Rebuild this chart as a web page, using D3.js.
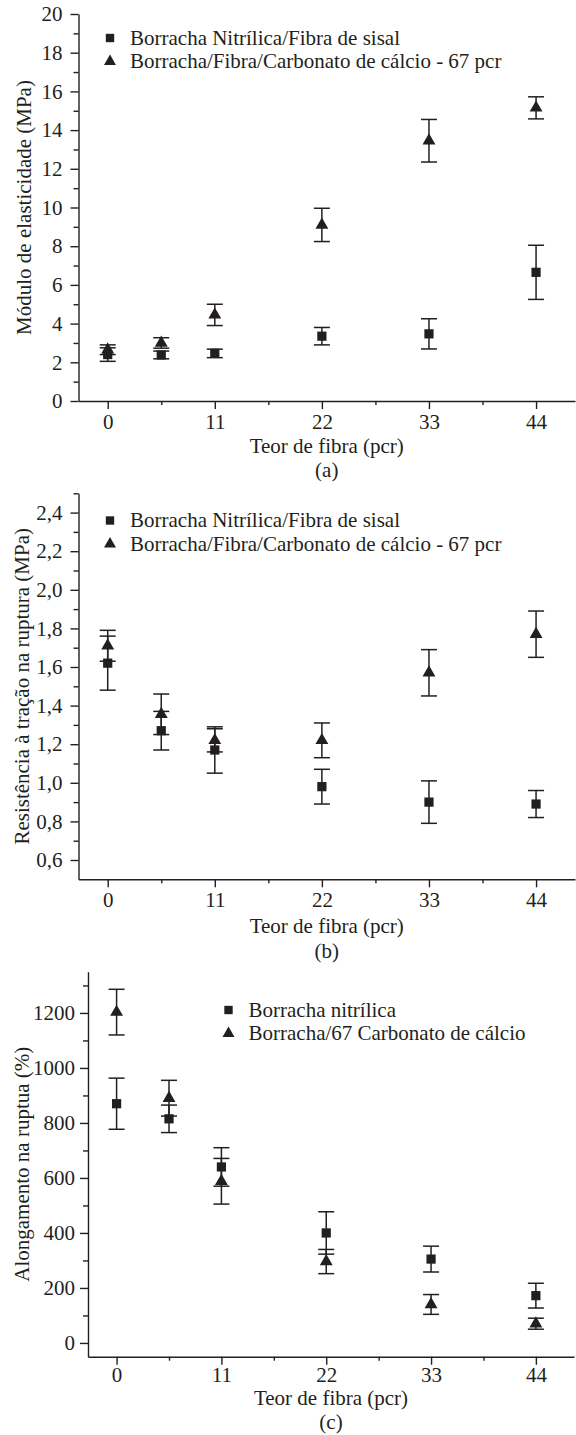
<!DOCTYPE html>
<html>
<head>
<meta charset="utf-8">
<script src="https://cdn.jsdelivr.net/npm/d3@7"></script>
<style>
  body { margin: 0; background: #fff; }
  svg { display: block; }
  text { font-family: "Liberation Serif", "Times New Roman", serif; font-size: 21px; fill: #231f20; }
  .axis path, .axis line { stroke: #231f20; stroke-width: 1.4; }
  .bar { stroke: #231f20; stroke-width: 1.5; fill: none; }
  .mark { fill: #231f20; }
</style>
</head>
<body>
<main></main>
<script>
var width = 576;
var height = 1435;

// fibre content (pcr) for every point
var fibra = [0, 5.5, 11, 22, 33, 44];
var xTicks = [0, 11, 22, 33, 44];
var xMinor = [5.5, 16.5, 27.5, 38.5];

// (a) modulo de elasticidade
var modNitrilica = [2.4, 2.38, 2.46, 3.35, 3.47, 6.65];
var modNitrilicaErr = [0.35, 0.2, 0.22, 0.45, 0.78, 1.4];
var modCarbonato = [2.65, 3.0, 4.45, 9.1, 13.45, 15.15];
var modCarbonatoErr = [0.25, 0.27, 0.55, 0.86, 1.1, 0.57];
var modTicks = [0, 2, 4, 6, 8, 10, 12, 14, 16, 18, 20];
var modMinor = [1, 3, 5, 7, 9, 11, 13, 15, 17, 19];

// (b) resistencia a tracao
var tracNitrilica = [1.62, 1.27, 1.17, 0.98, 0.90, 0.89];
var tracNitrilicaErr = [0.14, 0.10, 0.12, 0.09, 0.11, 0.07];
var tracCarbonato = [1.71, 1.355, 1.22, 1.22, 1.57, 1.77];
var tracCarbonatoErr = [0.08, 0.105, 0.06, 0.09, 0.12, 0.12];
var tracTicks = [0.6, 0.8, 1.0, 1.2, 1.4, 1.6, 1.8, 2.0, 2.2, 2.4];
var tracMinor = [0.7, 0.9, 1.1, 1.3, 1.5, 1.7, 1.9, 2.1, 2.3, 2.5];

// (c) alongamento
var alongNitrilica = [870, 815, 640, 400, 305, 172];
var alongNitrilicaErr = [93, 50, 70, 77, 47, 45];
var alongCarbonato = [1203, 890, 588, 296, 140, 70];
var alongCarbonatoErr = [83, 65, 83, 44, 36, 20];
var alongTicks = [0, 200, 400, 600, 800, 1000, 1200];
var alongMinor = [100, 300, 500, 700, 900, 1100, 1300];

var legendAB = ["Borracha Nitrílica/Fibra de sisal", "Borracha/Fibra/Carbonato de cálcio - 67 pcr"];
var legendC = ["Borracha nitrílica", "Borracha/67 Carbonato de cálcio"];

var comma = d3.formatLocale({decimal: ",", thousands: ".", grouping: [3], currency: ["", ""]}).format(".1f");

var svg = d3.select("main").append("svg")
    .attr("width", width)
    .attr("height", height);

svg.append("rect")
    .attr("width", width)
    .attr("height", height)
    .attr("fill", "#fff");

drawPanel({
  xRange: [78.5, 575], yDomain: [0, 20], yRange: [401, 14],
  ticks: modTicks, minor: modMinor, fmt: d3.format("d"), pad: 8, xPad: 5,
  s1: modNitrilica, e1: modNitrilicaErr, s2: modCarbonato, e2: modCarbonatoErr,
  yTitle: "Módulo de elasticidade (MPa)", yTitleX: 24,
  legend: legendAB, legX: 110, legY: 38,
  titleY: 453, caption: "(a)", capY: 477
});

drawPanel({
  xRange: [78.5, 575], yDomain: [0.5, 2.5], yRange: [879.3, 493.3],
  ticks: tracTicks, minor: tracMinor, fmt: comma, pad: 8, xPad: 5,
  s1: tracNitrilica, e1: tracNitrilicaErr, s2: tracCarbonato, e2: tracCarbonatoErr,
  yTitle: "Resistência à tração na ruptura (MPa)", yTitleX: 22,
  legend: legendAB, legX: 110, legY: 520.5,
  titleY: 932.5, caption: "(b)", capY: 958
});

drawPanel({
  xRange: [88, 574], yDomain: [-50, 1350], yRange: [1356.7, 971.7],
  ticks: alongTicks, minor: alongMinor, fmt: d3.format("d"), pad: 5, xPad: 2,
  s1: alongNitrilica, e1: alongNitrilicaErr, s2: alongCarbonato, e2: alongCarbonatoErr,
  yTitle: "Alongamento na ruptua (%)", yTitleX: 22,
  legend: legendC, legX: 228.5, legY: 1010,
  titleY: 1405, caption: "(c)", capY: 1429
});

function drawPanel(p) {
  var x = d3.scaleLinear().domain([-3, 48]).range(p.xRange);
  var y = d3.scaleLinear().domain(p.yDomain).range(p.yRange);
  var x0 = p.xRange[0], y0 = p.yRange[0];
  var g = svg.append("g");

  // minor ticks first, so the main axis line sits on top
  g.append("g").attr("class", "axis")
      .attr("transform", "translate(" + x0 + ",0)")
      .call(d3.axisLeft(y).tickValues(p.minor).tickSize(5).tickFormat(""))
      .select(".domain").remove();
  g.append("g").attr("class", "axis")
      .attr("transform", "translate(0," + y0 + ")")
      .call(d3.axisBottom(x).tickValues(xMinor).tickSize(4).tickFormat(""))
      .select(".domain").remove();

  g.append("g").attr("class", "axis")
      .attr("transform", "translate(" + x0 + ",0)")
      .call(d3.axisLeft(y).tickValues(p.ticks).tickFormat(p.fmt)
        .tickSize(8).tickSizeOuter(0).tickPadding(p.pad));
  g.append("g").attr("class", "axis")
      .attr("transform", "translate(0," + y0 + ")")
      .call(d3.axisBottom(x).tickValues(xTicks).tickFormat(d3.format("d"))
        .tickSize(8).tickSizeOuter(0).tickPadding(p.xPad));

  g.selectAll(".axis text")
      .attr("font-family", null)
      .attr("font-size", null);

  var midX = (p.xRange[0] + p.xRange[1]) / 2;
  g.append("text")
      .attr("x", midX)
      .attr("y", p.titleY)
      .attr("text-anchor", "middle")
      .text("Teor de fibra (pcr)");
  g.append("text")
      .attr("x", midX)
      .attr("y", p.capY)
      .attr("text-anchor", "middle")
      .text(p.caption);
  g.append("text")
      .attr("transform", "translate(" + p.yTitleX + "," + (p.yRange[0] + p.yRange[1]) / 2 + ") rotate(-90)")
      .attr("dy", "0.35em")
      .attr("text-anchor", "middle")
      .text(p.yTitle);

  drawSeries(g, x, y, p.s1, p.e1, d3.symbolSquare, 85);
  drawSeries(g, x, y, p.s2, p.e2, d3.symbolTriangle, 72);

  // legend
  var shapes = [[d3.symbolSquare, 70], [d3.symbolTriangle, 62]];
  p.legend.forEach(function(label, i) {
    var ly = p.legY + i * 23.5;
    g.append("path")
        .attr("class", "mark")
        .attr("d", d3.symbol(shapes[i][0], shapes[i][1]))
        .attr("transform", "translate(" + p.legX + "," + ly + ")");
    g.append("text")
        .attr("x", p.legX + 20)
        .attr("y", ly + 6.5)
        .text(label);
  });
}

function drawSeries(g, x, y, vals, errs, shape, size) {
  var cap = 8;
  var s = g.append("g");
  vals.forEach(function(v, i) {
    var cx = x(fibra[i]);
    var hi = y(v + errs[i]), lo = y(v - errs[i]);
    s.append("line").attr("class", "bar")
        .attr("x1", cx).attr("x2", cx).attr("y1", hi).attr("y2", lo);
    s.append("line").attr("class", "bar")
        .attr("x1", cx - cap).attr("x2", cx + cap).attr("y1", hi).attr("y2", hi);
    s.append("line").attr("class", "bar")
        .attr("x1", cx - cap).attr("x2", cx + cap).attr("y1", lo).attr("y2", lo);
    s.append("path")
        .attr("class", "mark")
        .attr("d", d3.symbol(shape, size))
        .attr("transform", "translate(" + cx + "," + y(v) + ")");
  });
}
</script>
</body>
</html>
